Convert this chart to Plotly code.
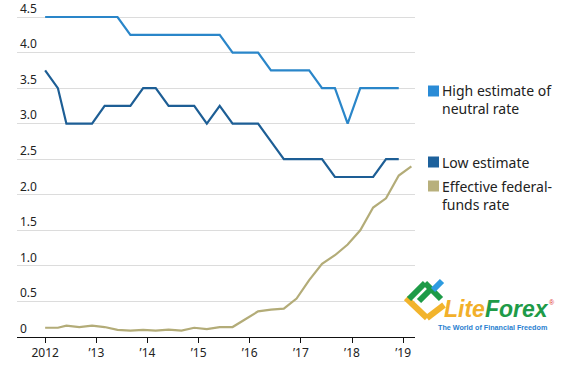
import plotly.graph_objects as go

# ---- data ----
dates = ["2012-01-01", "2012-04-01", "2012-06-01", "2012-09-01", "2012-12-01",
         "2013-03-01", "2013-06-01", "2013-09-01", "2013-12-01",
         "2014-03-01", "2014-06-01", "2014-09-01", "2014-12-01",
         "2015-03-01", "2015-06-01", "2015-09-01", "2015-12-01",
         "2016-03-01", "2016-06-01", "2016-09-01", "2016-12-01",
         "2017-03-01", "2017-06-01", "2017-09-01", "2017-12-01",
         "2018-03-01", "2018-06-01", "2018-09-01", "2018-12-01"]
high_estimate = [4.5, 4.5, 4.5, 4.5, 4.5,
                 4.5, 4.5, 4.25, 4.25,
                 4.25, 4.25, 4.25, 4.25,
                 4.25, 4.25, 4.0, 4.0,
                 4.0, 3.75, 3.75, 3.75,
                 3.75, 3.5, 3.5, 3.0,
                 3.5, 3.5, 3.5, 3.5]
low_estimate = [3.75, 3.5, 3.0, 3.0, 3.0,
                3.25, 3.25, 3.25, 3.5,
                3.5, 3.25, 3.25, 3.25,
                3.0, 3.25, 3.0, 3.0,
                3.0, 2.75, 2.5, 2.5,
                2.5, 2.5, 2.25, 2.25,
                2.25, 2.25, 2.5, 2.5]
ffr_dates = dates + ["2019-03-01"]
ffr = [0.13, 0.13, 0.16, 0.14, 0.16,
       0.14, 0.10, 0.09, 0.10,
       0.09, 0.105, 0.09, 0.13,
       0.11, 0.14, 0.14, 0.25,
       0.36, 0.385, 0.40, 0.54,
       0.80, 1.03, 1.15, 1.30,
       1.50, 1.82, 1.95, 2.27, 2.40]

y_ticks = [0, 0.5, 1.0, 1.5, 2.0, 2.5, 3.0, 3.5, 4.0, 4.5]
y_tick_labels = ["0", "0.5", "1.0", "1.5", "2.0", "2.5", "3.0", "3.5", "4.0", "4.5"]
x_ticks = ["2012-01-01", "2013-01-01", "2014-01-01", "2015-01-01",
           "2016-01-01", "2017-01-01", "2018-01-01", "2019-01-01"]
x_tick_labels = ["2012", "\u201913", "\u201914", "\u201915", "\u201916", "\u201917", "\u201918", "\u201919"]

legend_names = ["High estimate of<br>neutral rate", "Low estimate", "Effective federal-<br>funds rate"]

C_HIGH = "#2a86c9"
C_LOW = "#1d5e95"
C_FFR = "#b3ac78"
SQ_HIGH = "#2a8bd6"
SQ_LOW = "#1d619c"
SQ_FFR = "#b8b07c"

FONT = "Noto Sans"

fig = go.Figure()
fig.add_trace(go.Scatter(x=dates, y=high_estimate, mode="lines",
                         line=dict(color=C_HIGH, width=2.2), showlegend=False))
fig.add_trace(go.Scatter(x=dates, y=low_estimate, mode="lines",
                         line=dict(color=C_LOW, width=2.2), showlegend=False))
fig.add_trace(go.Scatter(x=ffr_dates, y=ffr, mode="lines",
                         line=dict(color=C_FFR, width=2.2), showlegend=False))

W, H = 571, 365
PL, PR, PT, PB = 17, 415, 14, 337   # plot area in page pixels
L, R, T, B = PL, W - PR, PT, H - PB
pw, ph = PR - PL, PB - PT
y_top = 4.5 * ph / (PB - 17)


def px(x):
    return (x - PL) / pw


def py(y):
    return (PB - y) / ph


fig.update_layout(
    width=W, height=H,
    margin=dict(l=L, r=R, t=T, b=B, pad=0, autoexpand=False),
    paper_bgcolor="white", plot_bgcolor="white",
    font=dict(family=FONT, size=12, color="#222"),
    xaxis=dict(
        type="date", automargin=False,
        range=["2011-06-14", "2019-03-27"],
        tickvals=x_ticks, ticktext=x_tick_labels,
        showgrid=False, zeroline=False,
        showline=True, linecolor="#111", linewidth=1,
        ticks="outside", ticklen=5, tickcolor="#111", tickwidth=1,
        tickfont=dict(size=12, color="#222", family=FONT),
    ),
    yaxis=dict(
        range=[0, y_top], automargin=False,
        tickvals=y_ticks, ticktext=y_tick_labels,
        showgrid=True, gridcolor="#dcdcdc", gridwidth=1,
        zeroline=False, showline=False, ticks="",
        ticklabelposition="inside top",
        ticklabeloverflow="allow",
        tickfont=dict(size=12, color="#222", family=FONT),
    ),
)

# custom legend
legend_rows = [
    (legend_names[0], SQ_HIGH, 91, 99),
    (legend_names[1], SQ_LOW, 162, 162),
    (legend_names[2], SQ_FFR, 186, 195),
]
for name, col, sq_y, txt_y in legend_rows:
    fig.add_shape(type="rect", xref="paper", yref="paper",
                  x0=px(428), x1=px(439), y0=py(sq_y + 5.5), y1=py(sq_y - 5.5),
                  fillcolor=col, line=dict(width=0))
    fig.add_annotation(xref="paper", yref="paper", x=px(440), y=py(txt_y),
                       text=name, showarrow=False, xanchor="left", yanchor="middle",
                       align="left", font=dict(size=14, color="#222", family=FONT))

# watermark logo
logo_lines = [
    ((406, 298), (427, 318), "#f2b42c"),
    ((427, 318), (444, 305), "#f2b42c"),
    ((409, 299), (425, 283), "#1e9b48"),
    ((425, 283), (441, 299), "#1e9b48"),
    ((419, 301), (431, 289), "#1e9b48"),
    ((433, 290), (442, 281), "#2d9be0"),
]
for (x0, y0), (x1, y1), col in logo_lines:
    fig.add_shape(type="line", xref="paper", yref="paper",
                  x0=px(x0), y0=py(y0), x1=px(x1), y1=py(y1),
                  line=dict(color=col, width=6))
fig.add_annotation(xref="paper", yref="paper", x=px(442), y=py(309),
                   text="<b><i><span style='color:#f2b02a'>Lite</span><span style='color:#1e9b48'>Forex</span></i></b>",
                   showarrow=False, xanchor="left", yanchor="middle",
                   font=dict(size=23, family="Liberation Sans"))
fig.add_annotation(xref="paper", yref="paper", x=px(552), y=py(302),
                   text="®", showarrow=False, xanchor="center", yanchor="middle",
                   font=dict(size=7, color="#e03030", family="Liberation Sans"))
fig.add_annotation(xref="paper", yref="paper", x=px(436), y=py(327),
                   text="<b>The World of Financial Freedom</b>",
                   showarrow=False, xanchor="left", yanchor="middle",
                   font=dict(size=7.2, color="#2a7fd0", family="Liberation Sans"))

fig.write_html("out.html", config={"displayModeBar": False},
               post_script="document.body.style.margin='0';document.body.style.overflow='hidden';")
